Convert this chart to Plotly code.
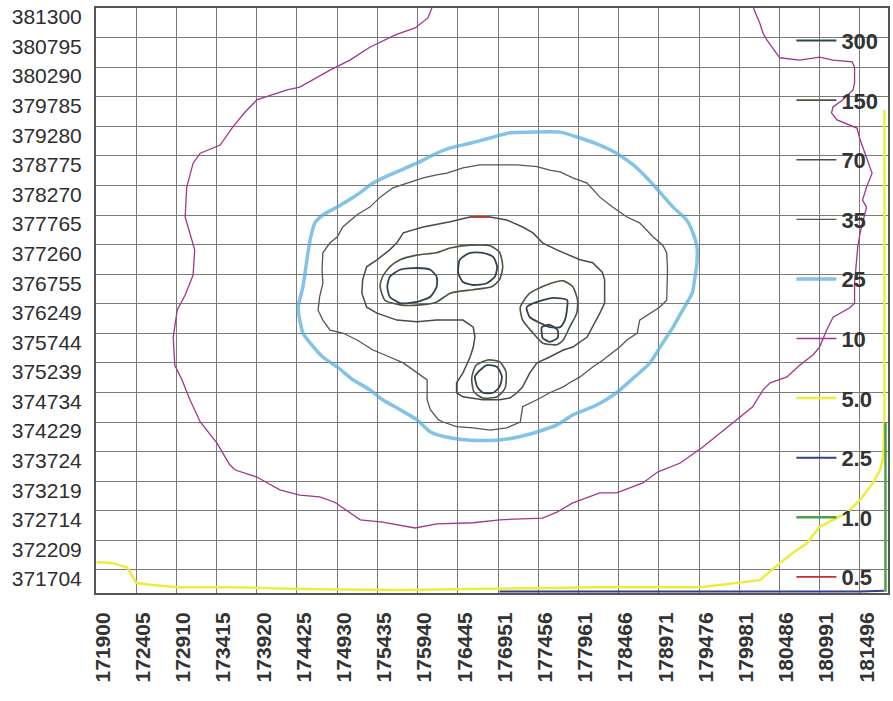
import plotly.graph_objects as go

# ---- axis ticks (easting / northing, metres) ----
x_ticks = [171900, 172405, 172910, 173415, 173920, 174425, 174930, 175435, 175940, 176445,
           176951, 177456, 177961, 178466, 178971, 179476, 179981, 180486, 180991, 181496]
y_ticks = [381300, 380795, 380290, 379785, 379280, 378775, 378270, 377765, 377260, 376755,
           376249, 375744, 375239, 374734, 374229, 373724, 373219, 372714, 372209, 371704]

# ---- contour levels (legend order) ----
levels = ["300", "150", "70", "35", "25", "10", "5.0", "2.5", "1.0", "0.5"]

# ---- contour polylines (None separates rings) ----
c300_x = [175590, 175720, 175930, 176100, 176180, 176180, 176100, 175930, 175720, 175590, 175560, 175590, None,
          176470, 176600, 176760, 176890, 176940, 176910, 176810, 176640, 176510, 176450, 176470, None,
          177310, 177440, 177640, 177820, 177820, 177790, 177730, 177600, 177480, 177350, 177310, None,
          177500, 177600, 177700, 177700, 177600, 177510, 177500, 177500, None,
          176690, 176810, 176940, 177000, 176970, 176890, 176760, 176690, 176660, 176690]
c300_y = [376710, 376830, 376860, 376830, 376710, 376540, 376370, 376280, 376260, 376370, 376540, 376710, None,
          377000, 377120, 377120, 377050, 376880, 376710, 376600, 376570, 376620, 376780, 377000, None,
          376190, 376280, 376350, 376310, 376190, 375970, 375850, 375850, 375920, 376020, 376190, None,
          375850, 375890, 375800, 375670, 375600, 375670, 375750, 375850, None,
          375070, 375200, 375170, 375000, 374830, 374730, 374730, 374830, 375000, 375070]

c150_x = [175470, 175500, 175590, 175720, 175930, 176180, 176350, 176600, 176850, 176970, 177010, 176970,
          176870, 176640, 176350, 176180, 175970, 175720, 175530, 175470, None,
          177230, 177350, 177560, 177770, 177890, 177950, 177940, 177850, 177770, 177690, 177510, 177390,
          177260, 177230, None,
          176620, 176670, 176820, 176970, 177050, 177040, 176940, 176760, 176650, 176620]
c150_y = [376540, 376710, 376880, 377000, 377080, 377120, 377200, 377250, 377240, 377130, 376880, 376660,
          376540, 376490, 376430, 376280, 376230, 376230, 376310, 376540, None,
          376190, 376430, 376570, 376640, 376540, 376310, 376090, 375850, 375630, 375550, 375580, 375750,
          375970, 376190, None,
          374980, 375190, 375290, 375260, 375090, 374810, 374660, 374640, 374740, 374980]

c70_x = [175250, 175300, 175430, 175590, 175680, 175760, 176010, 176180, 176350, 176600, 176850, 177060,
         177260, 177390, 177510, 177690, 177980, 178140, 178260, 178290, 178290, 178230, 178140, 178070,
         177890, 177770, 177600, 177440, 177350, 177260, 177190, 177100, 176970, 176760, 176510, 176430,
         176430, 176510, 176600, 176640, 176660, 176640, 176510, 176350, 176180, 175930, 175680, 175430,
         175300, 175240, 175250]
c70_y = [376660, 376880, 377000, 377170, 377290, 377460, 377560, 377600, 377650, 377730, 377730, 377680,
         377560, 377460, 377290, 377170, 377000, 376950, 376790, 376660, 376260, 376090, 375850, 375680,
         375510, 375460, 375340, 375240, 375070, 374830, 374730, 374640, 374610, 374610, 374660, 374730,
         374900, 375070, 375340, 375510, 375680, 375850, 375970, 375970, 375970, 375940, 375970, 376090,
         376190, 376430, 376660]

c35_x = [176180, 176310, 176510, 176720, 176940, 177190, 177440, 177600, 177730, 177890, 178070, 178230,
         178390, 178570, 178730, 178820, 178900, 179020, 179070, 179080, 179070, 179070, 178980, 178860,
         178730, 178700, 178570, 178480, 178390, 178270, 178140, 177980, 177850, 177770, 177600, 177440,
         177260, 177230, 177060, 176850, 176640, 176430, 176260, 176200, 176100, 176060, 176060, 175930,
         175760, 175590, 175380, 175180, 175000, 174840, 174750, 174690, 174710, 174750, 174740, 174750,
         174840, 174930, 175000, 175180, 175340, 175470, 175630, 175810, 176010, 176180]
c35_y = [378450, 378480, 378570, 378620, 378620, 378620, 378590, 378530, 378500, 378400, 378310, 378070,
         377900, 377730, 377630, 377510, 377390, 377250, 377120, 376830, 376540, 376310, 376190, 376090,
         375970, 375750, 375630, 375510, 375410, 375290, 375170, 375000, 374900, 374830, 374730, 374610,
         374490, 374230, 374130, 374090, 374130, 374150, 374230, 374270, 374440, 374610, 374950, 375070,
         375240, 375340, 375460, 375630, 375750, 375800, 375970, 376140, 376370, 376600, 376830, 377120,
         377290, 377390, 377560, 377770, 377900, 378070, 378230, 378310, 378400, 378450]

c25_x = [176180, 176350, 176600, 176850, 177100, 177350, 177730, 177980, 178230, 178440, 178650, 178820,
         178980, 179150, 179320, 179400, 179450, 179450, 179420, 179390, 179270, 179150, 179020, 178860,
         178650, 178440, 178190, 177890, 177690, 177440, 177190, 176940, 176600, 176350, 176100, 175930,
         175720, 175500, 175340, 175130, 174930, 174750, 174590, 174500, 174460, 174440, 174500, 174550,
         174590, 174650, 174750, 174930, 175180, 175380, 175590, 175930, 176180]
c25_y = [378820, 378910, 378990, 379080, 379170, 379180, 379180, 379080, 378960, 378820, 378620, 378400,
         378160, 377900, 377680, 377460, 377220, 376950, 376660, 376430, 376140, 375850, 375580, 375240,
         374980, 374730, 374520, 374350, 374180, 374060, 373970, 373920, 373920, 373960, 374060, 374270,
         374440, 374610, 374780, 374950, 375170, 375340, 375580, 375750, 375970, 376190, 376540, 377000,
         377340, 377630, 377765, 377900, 378110, 378310, 378450, 378650, 378820]

c10_x = [176120, 176070, 175910, 175660, 175340, 175090, 174840, 174590, 174460, 174300, 174090, 173920,
         173770, 173620, 173460, 173210, 173120, 173040, 173020, 173110, 173140, 173120, 173020, 172920,
         172870, 172890, 172980, 173080, 173210, 173420, 173580, 173650, 173920, 174210, 174460, 174710,
         174900, 175220, 175500, 175910, 176180, 176640, 176970, 177510, 177690, 177890, 178100, 178230,
         178440, 178770, 178960, 179240, 179520, 179740, 179900, 179990, 180150, 180280, 180370, 180580,
         180740, 180910, 180990, 181080, 181160, 181370, 181430, 181430, 181470, 181500, 181580, 181530,
         181580, 181650, 181580, 181500, 181460, 181210, 181140, 181160, 181280, 181410, 181430, 181430,
         181400, 181160, 180990, 180740, 180490, 180330, 180280, 180240, 180180, 180160]
c10_y = [381300, 381130, 380960, 380840, 380630, 380410, 380240, 380040, 379950, 379900, 379800, 379730,
         379520, 379270, 378960, 378820, 378650, 378240, 377730, 377290, 377170, 376740, 376400, 376140,
         375680, 375200, 374950, 374610, 374230, 373870, 373500, 373410, 373290, 373070, 372980, 372950,
         372860, 372560, 372520, 372420, 372490, 372510, 372560, 372590, 372690, 372850, 372950, 373020,
         373020, 373190, 373380, 373530, 373800, 374040, 374210, 374320, 374490, 374780, 374900, 375000,
         375200, 375380, 375510, 375800, 376020, 376180, 376260, 376600, 377220, 377460, 377900, 378020,
         378240, 378480, 378760, 379050, 379250, 379390, 379510, 379610, 379730, 379900, 380020, 380290,
         380380, 380410, 380460, 380410, 380450, 380750, 380870, 381040, 381230, 381300]

c5_x = [171910, 172110, 172290, 172410, 172580, 172920, 173620, 174460, 175720, 176970, 178230, 179490,
        179900, 180240, 180490, 180650, 180830, 180990, 181160, 181330, 181500, 181660, 181750, 181790,
        181805, 181805, 181805, 181805, 181805]
c5_y = [371840, 371820, 371750, 371480, 371450, 371410, 371410, 371380, 371360, 371380, 371410, 371410,
        371480, 371530, 371820, 371990, 372160, 372440, 372560, 372680, 372900, 373190, 373410, 373630,
        374270, 374950, 376310, 378020, 379560]

c2_5_x = [176970, 178230, 180490, 181500, 181800]
c2_5_y = [371335, 371335, 371335, 371335, 371350]

c1_x = [181818, 181818]
c1_y = [371330, 374230]

c0_5_x = [176600, 176850]
c0_5_y = [377735, 377735]

series = [
    ("300", c300_x, c300_y, "#34424c", 1.8, "spline"),
    ("150", c150_x, c150_y, "#4b5640", 1.6, "spline"),
    ("70", c70_x, c70_y, "#4a4a4a", 1.5, "linear"),
    ("35", c35_x, c35_y, "#555555", 1.3, "linear"),
    ("25", c25_x, c25_y, "rgba(90,175,220,0.75)", 3.5, "spline"),
    ("10", c10_x, c10_y, "#a4348c", 1.3, "linear"),
    ("5.0", c5_x, c5_y, "#ecec3a", 2.5, "linear"),
    ("2.5", c2_5_x, c2_5_y, "#34408e", 2.0, "linear"),
    ("1.0", c1_x, c1_y, "#48a048", 2.5, "linear"),
    ("0.5", c0_5_x, c0_5_y, "#c83030", 1.6, "linear"),
]

fig = go.Figure()
for name, xs, ys, col, w, shape in series:
    fig.add_trace(go.Scatter(
        x=xs, y=ys, mode="lines", name=name, legendgroup=name,
        line=dict(color=col, width=w, shape=shape, smoothing=0.6 if shape == "spline" else None),
        connectgaps=False, hoverinfo="skip",
    ))

fig.update_layout(
    width=893, height=701,
    margin=dict(l=96, r=5, t=8, b=108, autoexpand=False),
    paper_bgcolor="white", plot_bgcolor="white",
    showlegend=True,
    legend=dict(
        x=0.878, xanchor="left", y=0.98, yanchor="top",
        bgcolor="rgba(0,0,0,0)", borderwidth=0,
        font=dict(family="Liberation Sans", size=22, color="#333333", weight="bold"),
        tracegroupgap=28, itemwidth=40,
    ),
    xaxis=dict(
        range=[171900, 181850], tickmode="array", tickvals=x_ticks,
        ticktext=[str(v) for v in x_ticks], tickangle=-90, ticks="",
        ticklabelshift=7, ticklabelstandoff=9, ticklabeloverflow="allow",
        tickfont=dict(family="Liberation Sans", size=21, color="#333333", weight="bold"),
        showgrid=True, gridcolor="#7a7a7a", gridwidth=1.3,
        showline=True, linecolor="#555555", linewidth=2, mirror=True, zeroline=False,
        automargin=False,
    ),
    yaxis=dict(
        range=[371310, 381300], tickmode="array", tickvals=y_ticks,
        ticktext=[str(v) for v in y_ticks], ticks="",
        ticklabelshift=9, ticklabelstandoff=8, ticklabeloverflow="allow",
        tickfont=dict(family="Liberation Sans", size=21, color="#2e2e2e"),
        showgrid=True, gridcolor="#7a7a7a", gridwidth=1.3,
        showline=True, linecolor="#555555", linewidth=2, mirror=True, zeroline=False,
        automargin=False,
    ),
)

# remove the default 8px page margin so the figure fills the window exactly
fig.write_html("out.html", config={"displayModeBar": False},
               post_script="document.body.style.margin='0px';")
